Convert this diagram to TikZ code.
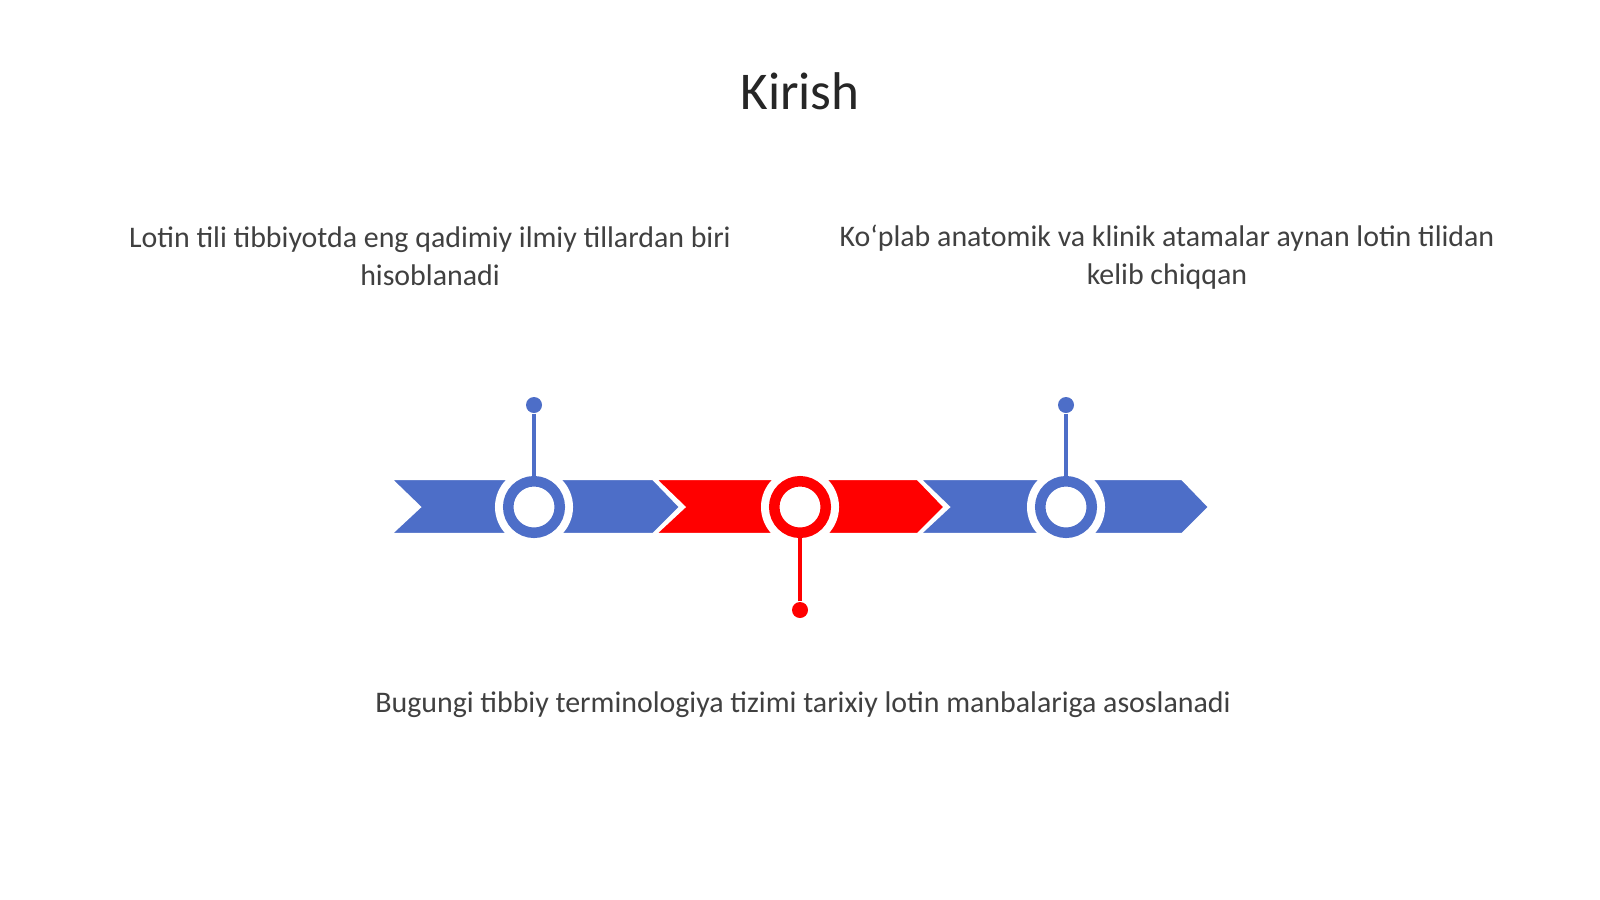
\documentclass[tikz,border=0pt]{standalone}
\usepackage{fontspec}
\setmainfont{Carlito}
\definecolor{tblue}{HTML}{4D6EC8}
\definecolor{tred}{HTML}{FF0000}
\definecolor{ttext}{HTML}{404040}
\definecolor{ttitle}{HTML}{262626}
\begin{document}
\begin{tikzpicture}[x=0.01cm,y=-0.01cm,
  chev/.style={draw=white,line width=0.6pt,line join=miter},
  halo/.style={circle,fill=white,minimum size=0.78cm,inner sep=0pt},
  ringc/.style={circle,minimum size=0.515cm,inner sep=0pt,fill=white,draw=#1,line width=0.105cm},
  stem/.style={draw=#1,line width=0.9pt},
  dotc/.style={circle,fill=#1,minimum size=0.16cm,inner sep=0pt},
  body/.style={text=ttext,font=\fontsize{8.5}{10.9}\selectfont,align=center},
]
\useasboundingbox[fill=white] (0,0) rectangle (1600,899);
\node[text=ttitle,font=\fontsize{15.1}{18}\selectfont] (title) at (800,91) {Kirish};
% chevrons
\foreach \i/\c in {0/tblue,1/tred,2/tblue}{
  \pgfmathsetmacro{\xl}{391+264.5*\i}
  \fill[\c,chev] (\xl,479) -- (\xl+262,479) -- (\xl+289,507) -- (\xl+262,534) -- (\xl,534) -- (\xl+29,507) -- cycle;
}
% rings
\node[halo] (h1) at (534,507) {};
\node[halo] (h2) at (800,507) {};
\node[halo] (h3) at (1066,507) {};
\node[ringc=tblue] (r1) at (534,507) {};
\node[ringc=tred] (r2) at (800,507) {};
\node[ringc=tblue] (r3) at (1066,507) {};
\node[dotc=tblue] (d1) at (534,405) {};
\node[dotc=tred] (d2) at (800,610) {};
\node[dotc=tblue] (d3) at (1066,405) {};
\draw[stem=tblue] (d1) -- (r1);
\draw[stem=tred] (d2) -- (r2);
\draw[stem=tblue] (d3) -- (r3);
% texts
\node[body] (t1) at (430,256) {Lotin tili tibbiyotda eng qadimiy ilmiy tillardan biri\\hisoblanadi};
\node[body] (t2) at (1167,257) {Koʻplab anatomik va klinik atamalar aynan lotin tilidan\\kelib chiqqan};
\node[body] (t3) at (803,705) {Bugungi tibbiy terminologiya tizimi tarixiy lotin manbalariga asoslanadi};
\end{tikzpicture}
\end{document}
